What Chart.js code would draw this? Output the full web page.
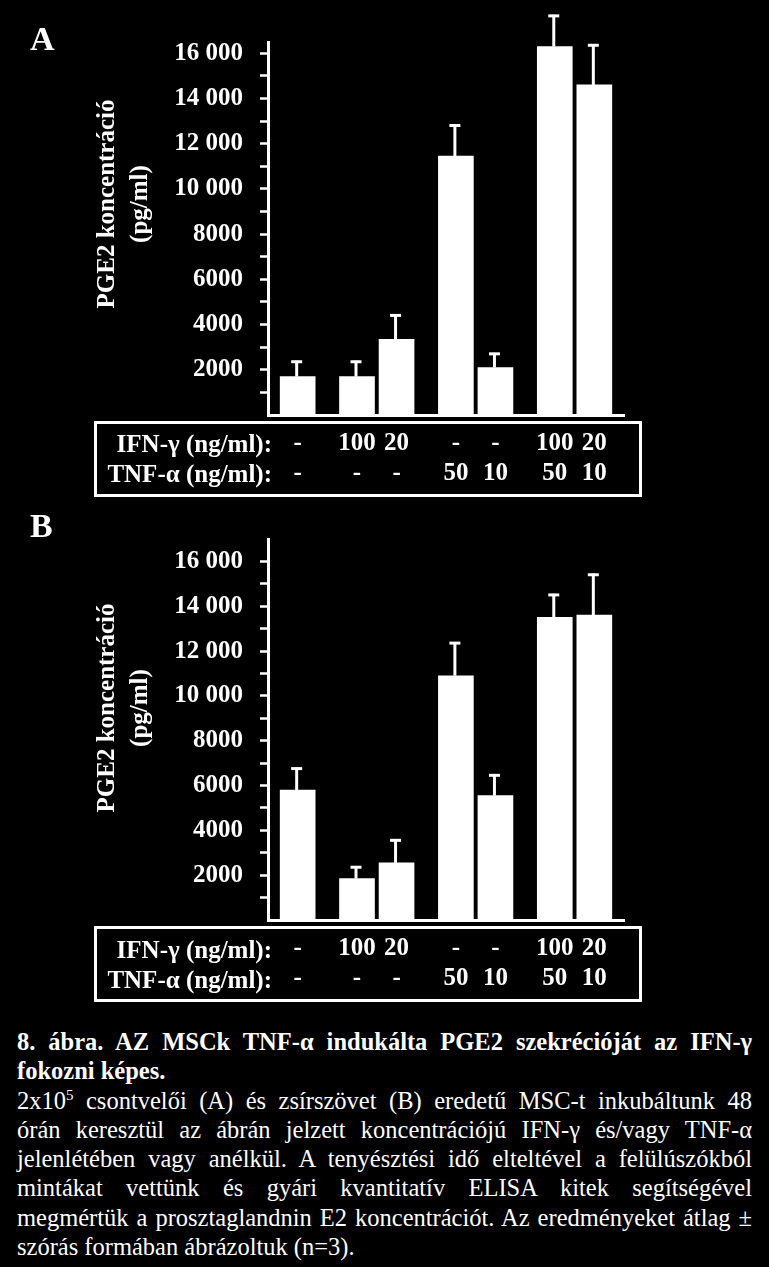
<!DOCTYPE html>
<html lang="hu">
<head>
<meta charset="utf-8">
<title>8. ábra – PGE2 szekréció</title>
<script src="https://cdn.jsdelivr.net/npm/chart.js@4.4.1/dist/chart.umd.min.js"></script>
<style>
  html, body { margin: 0; background: #000; }
  body { position: relative; width: 769px; height: 1267px; overflow: hidden; color: #fff;
         font-family: 'Liberation Serif', 'Times New Roman', serif; }
  .panel { position: absolute; left: 0; width: 769px; height: 510px; }
  .letter { position: absolute; left: 30px; font-size: 34px; font-weight: bold; line-height: 34px; }
  .ytitle { position: absolute; left: -38.5px; width: 320px; height: 66px; font-size: 25px; font-weight: bold;
            line-height: 33px; text-align: center; transform: rotate(-90deg); white-space: nowrap; }
  .dosebox { position: absolute; left: 94px; width: 548px; height: 76px; border: 3px solid #fff; box-sizing: border-box; }
  .rowhead { position: absolute; left: 0; width: 272px; text-align: right; font-size: 25px; font-weight: bold;
             line-height: 30px; white-space: nowrap; }
  .caption { position: absolute; left: 17px; top: 1027px; width: 735px; font-size: 24.5px; line-height: 29.3px; }
  .caption div { white-space: nowrap; text-align: justify; text-align-last: justify; }
  .caption .last { text-align-last: left; }
  .caption .head { font-weight: bold; }
  sup { font-size: 15px; line-height: 0; vertical-align: 9px; }
</style>
</head>
<body>

<div class="panel" style="top:0"><canvas id="chartA"></canvas></div>
<div class="panel" style="top:505px"><canvas id="chartB"></canvas></div>

<div class="letter" style="top:22px">A</div>
<div class="letter" style="top:509px">B</div>

<div class="ytitle" style="top:171px">PGE2 koncentráció<br>(pg/ml)</div>
<div class="ytitle" style="top:675px">PGE2 koncentráció<br>(pg/ml)</div>

<div class="dosebox" style="top:421px"></div>
<div class="dosebox" style="top:926px"></div>
<div class="rowhead" style="top:429px">IFN-γ (ng/ml):<br>TNF-α (ng/ml):</div>
<div class="rowhead" style="top:935px">IFN-γ (ng/ml):<br>TNF-α (ng/ml):</div>

<div class="caption">
  <div class="head">8. ábra. AZ MSCk TNF-α indukálta PGE2 szekrécióját az IFN-γ</div>
  <div class="head last">fokozni képes.</div>
  <div>2x10<sup>5</sup> csontvelői (A) és zsírszövet (B) eredetű MSC-t inkubáltunk 48</div>
  <div>órán keresztül az ábrán jelzett koncentrációjú IFN-γ és/vagy TNF-α</div>
  <div>jelenlétében vagy anélkül. A tenyésztési idő elteltével a felülúszókból</div>
  <div>mintákat vettünk és gyári kvantitatív ELISA kitek segítségével</div>
  <div>megmértük a prosztaglandnin E2 koncentrációt. Az eredményeket átlag ±</div>
  <div class="last">szórás formában ábrázoltuk (n=3).</div>
</div>

<script>
; (function () {
    'use strict'

    // ── Data ───────────────────────────────────────────────────────────────────
    const ifnDose = ['-', '100', '20', '-', '-', '100', '20']   // ng/ml
    const tnfDose = ['-', '-', '-', '50', '10', '50', '10']     // ng/ml
    const treatGroup = [0, 1, 1, 2, 2, 3, 3]                    // bars of one group stand together

    // A: bone marrow MSC, B: adipose MSC – PGE2 pg/ml, mean and SD (n=3)
    const meanA = [1700, 1700, 3350, 11450, 2100, 16300, 14600]
    const sdA = [700, 700, 1100, 1400, 650, 1400, 1800]
    const meanB = [5800, 1850, 2550, 10900, 5550, 13500, 13600]
    const sdB = [1000, 550, 1050, 1500, 950, 1050, 1850]

    const yTickStep = 1000    // tick marks
    const yLabelStep = 2000   // labelled ticks

    // ── Helpers ────────────────────────────────────────────────────────────────
    const FONT = "'Liberation Serif', 'Times New Roman', serif"
    const CLEAR = 'rgba(0,0,0,0)'

    // spread conditions over category slots: one empty slot inside a group, two between groups
    function toSlots(values, empty) {
        const slots = [empty]
        values.forEach((v, i) => {
            if (i > 0) {
                slots.push(empty)
                if (treatGroup[i] !== treatGroup[i - 1]) slots.push(empty)
            }
            slots.push(v)
        })
        slots.push(empty)
        return slots
    }

    function fmtThousands(v) {
        const s = String(v)
        return s.length > 4 ? s.slice(0, -3) + ' ' + s.slice(-3) : s
    }

    const doseLabels = toSlots(ifnDose.map((d, i) => [d, tnfDose[i]]), '')

    // ── Error bars (upper whisker only, as in the figure) ──────────────────────
    const errorBars = {
        id: 'errorBars',
        afterDatasetsDraw(chart) {
            const { ctx, scales: { y } } = chart
            const ds = chart.data.datasets[0]
            const meta = chart.getDatasetMeta(0)
            ctx.save()
            ctx.strokeStyle = '#fff'
            ctx.lineWidth = 3
            meta.data.forEach((bar, i) => {
                const v = ds.data[i]
                if (v == null) return
                const top = y.getPixelForValue(v + ds.sd[i])
                ctx.beginPath()
                ctx.moveTo(bar.x - 1, bar.y)
                ctx.lineTo(bar.x - 1, top)
                ctx.stroke()
                ctx.beginPath()
                ctx.moveTo(bar.x - 6.5, top + 1)
                ctx.lineTo(bar.x + 4.5, top + 1)
                ctx.stroke()
            })
            ctx.restore()
        }
    }

    // ── Chart factory ──────────────────────────────────────────────────────────
    function makeChart(id, means, sds, yMax, padTop) {
        const isMark = v => v > 0 && v < yMax && v % yTickStep === 0
        return new Chart(document.getElementById(id), {
            type: 'bar',
            data: {
                labels: doseLabels,
                datasets: [{
                    data: toSlots(means, null),
                    sd: toSlots(sds, null),
                    backgroundColor: '#fff',
                    borderWidth: 0,
                    barThickness: 35
                }]
            },
            options: {
                responsive: true,
                maintainAspectRatio: false,
                animation: false,
                layout: { padding: { top: padTop, right: 145, bottom: 0, left: 0 } },
                plugins: { legend: { display: false }, tooltip: { enabled: false } },
                scales: {
                    x: {
                        afterFit: s => { s.height = 95 },
                        grid: { display: false, drawTicks: false },
                        border: { display: true, color: '#fff', width: 3 },
                        ticks: {
                            autoSkip: false, maxRotation: 0, minRotation: 0, padding: 14,
                            color: '#fff',
                            font: { family: FONT, size: 25, weight: 'bold', lineHeight: 1.2 }
                        }
                    },
                    y: {
                        min: 0, max: yMax,
                        afterFit: s => { s.width = 268 },
                        grid: {
                            drawOnChartArea: false, drawTicks: true, tickLength: 8, tickWidth: 2.5,
                            tickColor: c => (c.tick && isMark(c.tick.value) ? '#fff' : CLEAR)
                        },
                        border: { display: true, color: '#fff', width: 3 },
                        ticks: {
                            stepSize: yTickStep / 2, autoSkip: false, padding: 17,
                            color: '#fff',
                            font: { family: FONT, size: 25, weight: 'bold' },
                            callback: v => (isMark(v) && v % yLabelStep === 0 ? fmtThousands(v) : '')
                        }
                    }
                }
            },
            plugins: [errorBars]
        })
    }

    makeChart('chartA', meanA, sdA, 16500, 42)
    makeChart('chartB', meanB, sdB, 17000, 34)

})()
</script>
</body>
</html>
